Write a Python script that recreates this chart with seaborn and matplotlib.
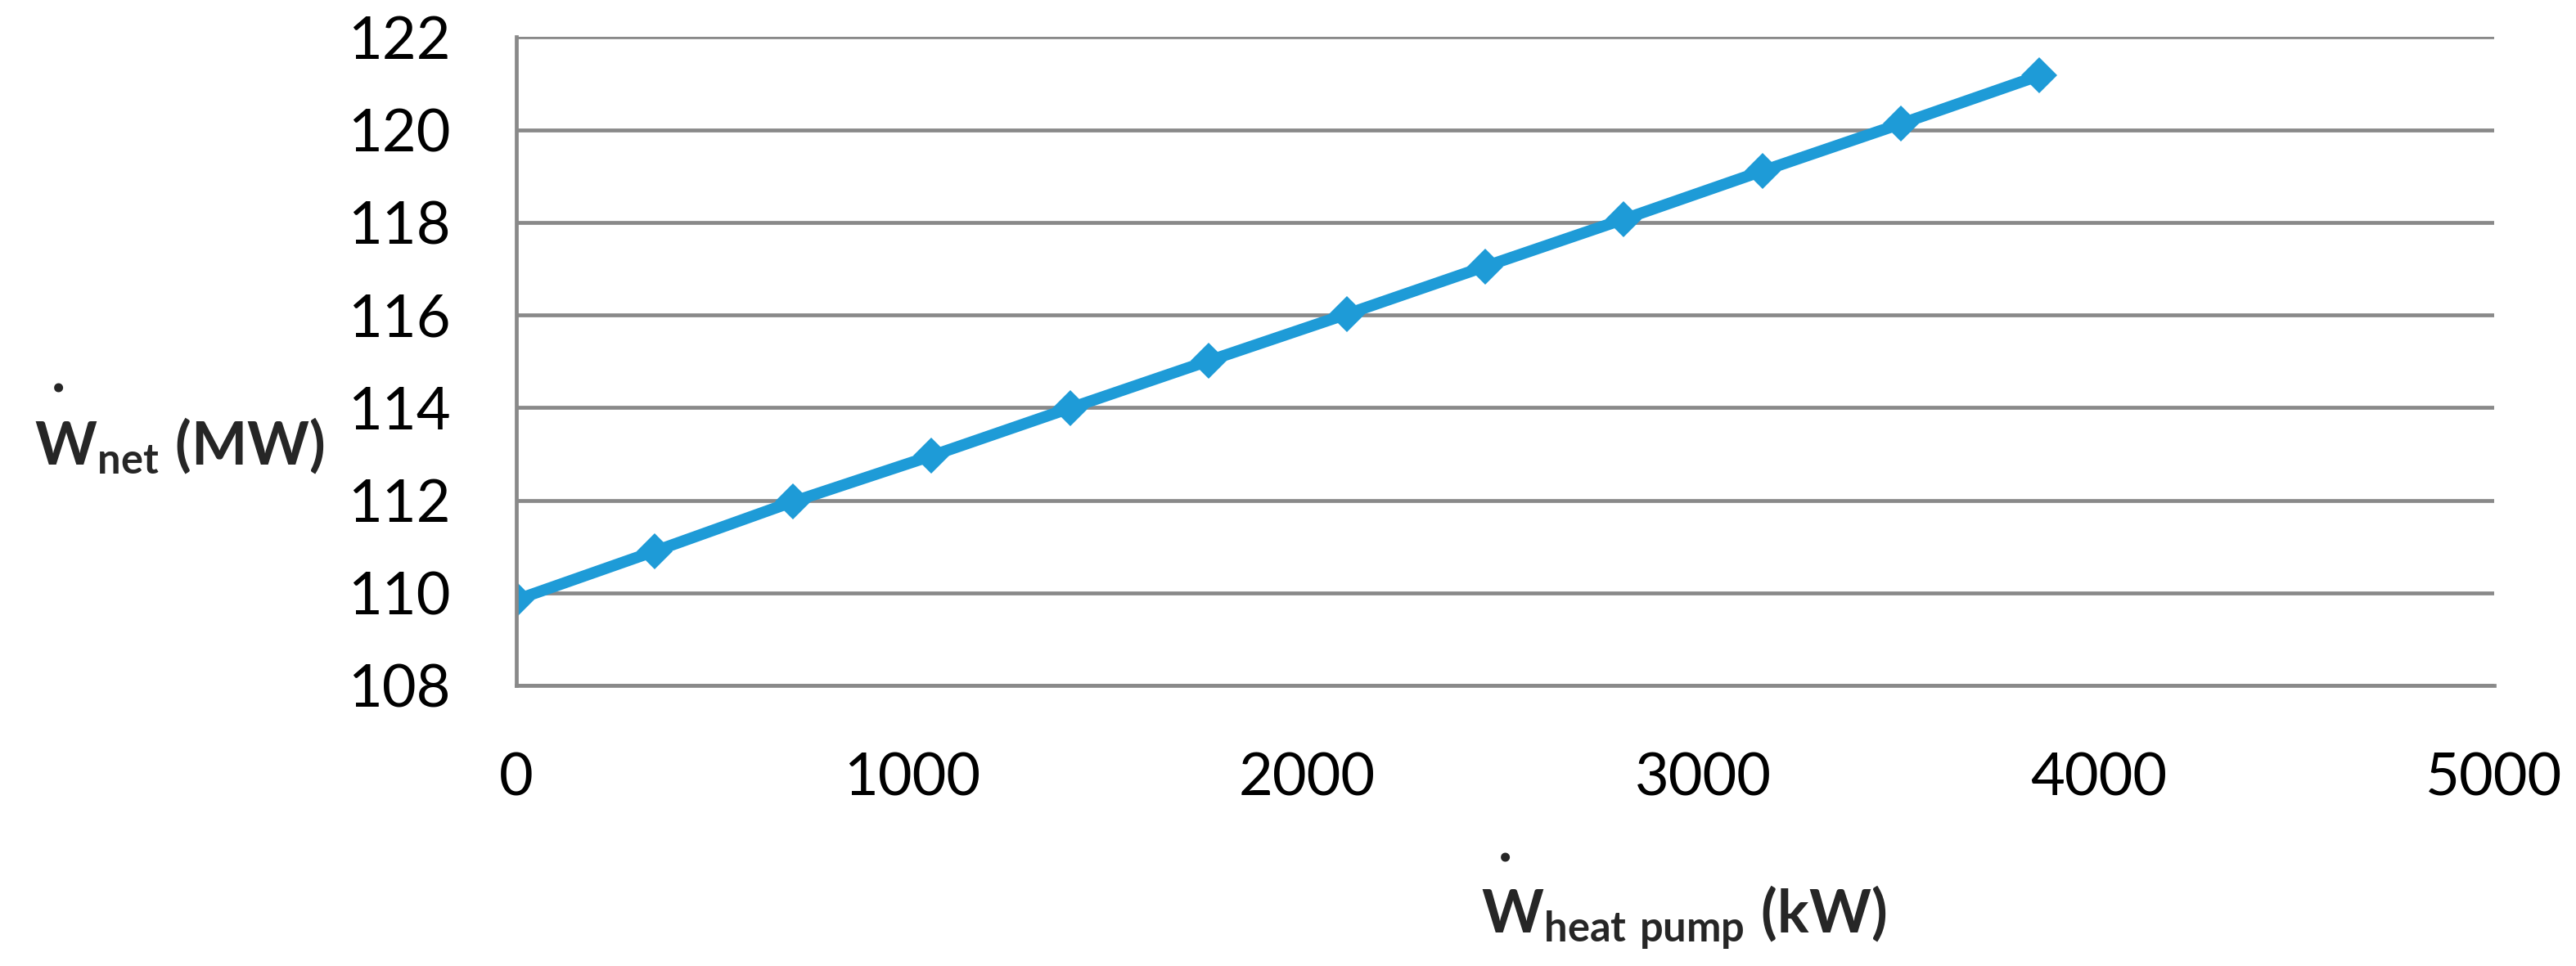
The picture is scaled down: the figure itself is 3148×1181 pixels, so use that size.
import matplotlib
matplotlib.use("Agg")
import matplotlib.pyplot as plt
import seaborn as sns
import pandas as pd

# du lieu doc tu hinh
w_heat_pump = [0, 350, 700, 1050, 1400, 1750, 2100, 2450, 2800, 3150, 3500, 3850]
w_net = [109.85, 110.90, 111.97, 112.96, 113.99, 115.01, 116.02, 117.05, 118.07, 119.11, 120.13, 121.17]
x_ticks = [0, 1000, 2000, 3000, 4000, 5000]
y_ticks = [108, 110, 112, 114, 116, 118, 120, 122]

MAU_DUONG = "#1E9BD7"
MAU_LUOI = "#898989"

sns.set_style("white")
plt.rcParams["font.family"] = ["Lato", "DejaVu Sans"]
plt.rcParams["mathtext.fontset"] = "custom"
plt.rcParams["mathtext.rm"] = "Lato"
plt.rcParams["mathtext.bf"] = "Lato:bold"

df = pd.DataFrame({"x": w_heat_pump, "y": w_net})

fig = plt.figure(figsize=(31.48, 11.81), dpi=100)
ax = fig.add_axes([0.2004, 0.2904, 0.7678, 0.6711])

sns.lineplot(data=df, x="x", y="y", ax=ax, color=MAU_DUONG, linewidth=10,
             marker="D", markersize=22.5, markeredgewidth=0)

ax.set_xlim(0, 5000)
ax.set_ylim(108, 122)
ax.set_xticks(x_ticks)
ax.set_yticks(y_ticks)
ax.set_xlabel("")
ax.set_ylabel("")

ax.yaxis.grid(True, color=MAU_LUOI, linewidth=3.4)
ax.xaxis.grid(False)
ax.set_axisbelow(True)
for s in ["top", "right"]:
    ax.spines[s].set_visible(False)
for s in ["left", "bottom"]:
    ax.spines[s].set_color(MAU_LUOI)
    ax.spines[s].set_linewidth(3.4)

ax.tick_params(axis="both", which="major", direction="out", length=18.7, width=3,
               color=MAU_LUOI, labelsize=52, labelcolor="black")
ax.tick_params(axis="y", pad=39)
ax.tick_params(axis="x", pad=40)

# nhan truc tung: W cham (dot) + chi so net
fig.text(42 / 3148, 1 - 568 / 1181, r"$\mathbf{W_{net}}$ $\mathbf{(MW)}$",
         fontsize=52, ha="left", va="baseline")
fig.text(72 / 3148, 1 - 459 / 1181, ".", fontsize=52, fontweight="bold",
         ha="center", va="center")

# nhan truc hoanh
fig.text(1810 / 3148, 1 - 1140 / 1181, r"$\mathbf{W_{heat\ pump}}$ $\mathbf{(kW)}$",
         fontsize=52, ha="left", va="baseline")
fig.text(1840 / 3148, 1 - 1033 / 1181, ".", fontsize=52, fontweight="bold",
         ha="center", va="center")

fig.savefig("out.png", dpi=100)
